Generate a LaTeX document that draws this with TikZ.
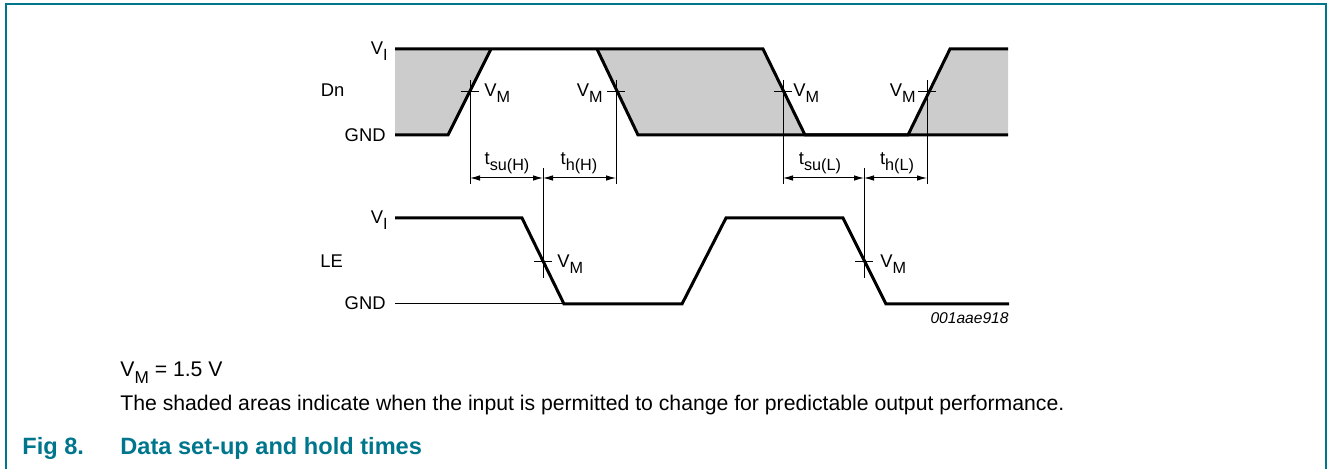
\documentclass[tikz,border=0pt]{standalone}
\usepackage{fontspec}
\setmainfont{Liberation Sans}
\usetikzlibrary{arrows.meta}
\definecolor{nxpteal}{RGB}{0,118,140}
\definecolor{shadegray}{RGB}{204,204,204}
\newcommand\sbsd[1]{\raisebox{-0.3em}{\fontsize{8.1}{9}\selectfont #1}}
\newcommand\sbst[1]{\raisebox{-0.3em}{\fontsize{8.6}{9}\selectfont #1}}
\begin{document}
\begin{tikzpicture}[x=0.5pt,y=-0.5pt,
  wave/.style={line width=1.5pt},
  thinline/.style={line width=0.5pt},
  dim/.style={line width=0.5pt,{Latex[length=5pt,width=2.8pt]}-{Latex[length=5pt,width=2.8pt]}},
  lbl/.style={inner sep=0pt,font=\fontsize{9.2}{10}\selectfont},
  body/.style={inner sep=0pt,font=\fontsize{10.6}{12}\selectfont},
  capt/.style={inner sep=0pt,font=\fontsize{11.8}{13}\selectfont\bfseries,text=nxpteal}]
\useasboundingbox (0,0) rectangle (1328,469);
% frame
\draw[nxpteal,line width=1pt] (5.5,469) -- (5.5,4.5) -- (1326,4.5) -- (1326,469);
% shaded areas
\fill[shadegray] (395,49) -- (491,49) -- (448,135) -- (395,135) -- cycle;
\fill[shadegray] (597,49) -- (763,49) -- (805,135) -- (638,135) -- cycle;
\fill[shadegray] (950,49) -- (1008,49) -- (1008,135) -- (908,135) -- cycle;
% Dn waveform
\draw[wave] (395,135) -- (448,135) -- (491,49);
\draw[wave] (395,49) -- (763,49) -- (805,135) -- (908,135) -- (950,49) -- (1008,49);
\draw[wave] (597,49) -- (638,135) -- (1008,135);
% LE waveform
\draw[thinline] (395,304) -- (564,304);
\draw[wave] (395,218) -- (522,218) -- (564,304) -- (682,304) -- (726,218) -- (843,218) -- (886,304) -- (1009,304);
% reference lines
\coordinate (d1) at (470,178);
\coordinate (d2) at (543,178);
\coordinate (d3) at (616,178);
\coordinate (d4) at (783,178);
\coordinate (d5) at (864,178);
\coordinate (d6) at (927,178);
\draw[thinline] (470,80) -- (470,184);
\draw[thinline] (616,80) -- (616,184);
\draw[thinline] (783,80) -- (783,184);
\draw[thinline] (927,80) -- (927,184);
\draw[thinline] (543,168) -- (543,278);
\draw[thinline] (864,168) -- (864,278);
% ticks
\draw[thinline] (461,92) -- (479,92);
\draw[thinline] (607,92) -- (625,92);
\draw[thinline] (774,92) -- (792,92);
\draw[thinline] (918,92) -- (936,92);
\draw[thinline] (534,261.5) -- (552,261.5);
\draw[thinline] (855,261.5) -- (873,261.5);
% dimension arrows
\draw[dim] (d1) -- (d2);
\draw[dim] (d2) -- (d3);
\draw[dim] (d4) -- (d5);
\draw[dim] (d5) -- (d6);
% labels
\node[lbl,anchor=base east] (viD) at (388,55) {V\sbsd{I}};
\node[lbl,anchor=base west] (dn) at (320.5,97) {Dn};
\node[lbl,anchor=base east] (gndD) at (386,142) {GND};
\node[lbl,anchor=base east] (viL) at (388,224) {V\sbsd{I}};
\node[lbl,anchor=base west] (le) at (320,268) {LE};
\node[lbl,anchor=base east] (gndL) at (386,310) {GND};
\node[lbl,anchor=base west] (vm1) at (484,97) {V\sbsd{M}};
\node[lbl,anchor=base east] (vm2) at (603,97) {V\sbsd{M}};
\node[lbl,anchor=base west] (vm3) at (793,97) {V\sbsd{M}};
\node[lbl,anchor=base east] (vm4) at (916,97) {V\sbsd{M}};
\node[lbl,anchor=base west] (vm5) at (557,268) {V\sbsd{M}};
\node[lbl,anchor=base west] (vm6) at (880,268) {V\sbsd{M}};
\node[lbl,anchor=base] (tsuH) at (507,165) {t\sbsd{su(H)}};
\node[lbl,anchor=base] (thH) at (579,165) {t\sbsd{h(H)}};
\node[lbl,anchor=base] (tsuL) at (820,165) {t\sbsd{su(L)}};
\node[lbl,anchor=base] (thL) at (897,165) {t\sbsd{h(L)}};
\node[inner sep=0pt,font=\fontsize{7.8}{9}\selectfont\itshape,anchor=base east] (code) at (1009,324) {001aae918};
% text below
\node[body,anchor=base west] (vmnote) at (120,377) {V\sbst{M} = 1.5 V};
\node[body,anchor=base west] (shnote) at (120,411) {The shaded areas indicate when the input is permitted to change for predictable output performance.};
\node[capt,anchor=base west] (fig) at (22,455) {Fig 8.};
\node[capt,anchor=base west] (title) at (120,455) {Data set-up and hold times};
\end{tikzpicture}
\end{document}
